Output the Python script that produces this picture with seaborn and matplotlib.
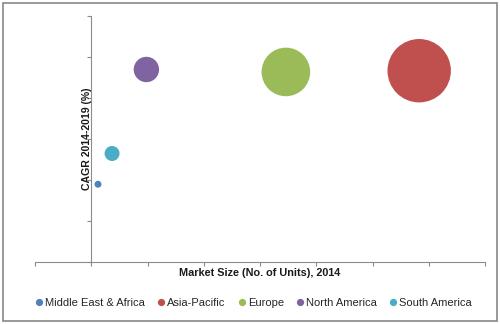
import matplotlib
matplotlib.use("Agg")
import matplotlib.pyplot as plt
from matplotlib.lines import Line2D
from matplotlib.patches import Rectangle
import seaborn as sns
import pandas as pd

# Regional bubble data
regions = ["Middle East & Africa", "Asia-Pacific", "Europe", "North America", "South America"]
market_size = [0.12, 5.83, 3.46, 0.98, 0.37]      # market size (no. of units), 2014
cagr = [1.90, 4.67, 4.64, 4.70, 2.65]             # CAGR 2014-2019 (%)
bubble_value = [12, 1005, 590, 161, 56]           # relative bubble weight
colors = ["#4F81BD", "#C0504D", "#9BBB59", "#8064A2", "#4BACC6"]

df = pd.DataFrame({"region": regions, "x": market_size, "y": cagr, "v": bubble_value})

sns.set_theme(style="white")
plt.rcParams["font.family"] = ["Liberation Sans", "DejaVu Sans"]

fig = plt.figure(figsize=(5.0, 3.24), dpi=100)
ax = fig.add_axes([0.07, 0.191, 0.90, 0.759])

sns.scatterplot(
    data=df, x="x", y="y", hue="region", size="v",
    palette=dict(zip(regions, colors)),
    sizes=(0, 2084), size_norm=(0, max(bubble_value)),
    linewidth=0, alpha=1.0, legend=False, ax=ax, zorder=3,
)

ax.set_xlim(-1, 7)
ax.set_ylim(0, 6)
ax.set_xticks(range(-1, 8))
ax.set_yticks(range(0, 7))
ax.set_xticklabels([])
ax.set_yticklabels([])
ax.set_xlabel("")
ax.set_ylabel("")

for side in ("top", "right"):
    ax.spines[side].set_visible(False)
ax.spines["left"].set_position(("data", 0))
ax.spines["bottom"].set_position(("data", 0))
for side in ("left", "bottom"):
    ax.spines[side].set_color("#8c8c8c")
    ax.spines[side].set_linewidth(0.8)
ax.tick_params(axis="both", which="major", direction="out", length=3,
               width=0.8, color="#8c8c8c", bottom=True, left=True)

fig.text(260 / 500, 1 - 273 / 324, "Market Size (No. of Units), 2014",
         ha="center", va="center", fontsize=7.8, fontweight="bold", color="#1a1a1a")
fig.text(87 / 500, 1 - 139 / 324, "CAGR 2014-2019 (%)", rotation=90,
         ha="center", va="center", fontsize=7.6, fontweight="bold", color="#1a1a1a")

handles = [Line2D([0], [0], marker="o", linestyle="", markersize=4.2,
                  markerfacecolor=c, markeredgecolor=c) for c in colors]
fig.legend(handles, regions, loc="center", bbox_to_anchor=(254 / 500, 1 - 303 / 324),
           ncol=5, frameon=False, fontsize=8, handletextpad=0.25,
           columnspacing=1.15, handlelength=0.6, borderaxespad=0, borderpad=0,
           labelcolor="#262626")

fig.patches.append(Rectangle((3 / 500, 3 / 324), 494 / 500, 318 / 324,
                             transform=fig.transFigure, fill=False,
                             edgecolor="#888888", linewidth=1.2))

fig.savefig("out.png", dpi=100)
